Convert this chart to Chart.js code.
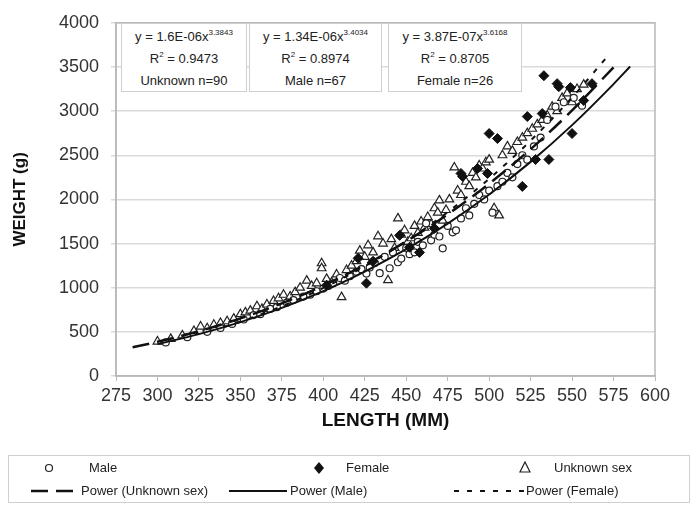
<!DOCTYPE html>
<html>
<head>
<meta charset="utf-8">
<script src="https://cdn.jsdelivr.net/npm/chart.js@4/dist/chart.umd.min.js"></script>
<style>
  body { margin: 0; background: #fff; font-family: 'Liberation Sans', Arial, sans-serif; }
  #wrap { position: relative; width: 698px; height: 506px; }
  .eq { position: absolute; top: 23px; height: 69px; background: #fff; border: 1px solid #cfcfcf;
        font-size: 13px; color: #222; text-align: center; line-height: 22px; padding-top: 2px; box-sizing: border-box; }
  .eq sup { font-size: 8px; vertical-align: 6px; line-height: 0; }
  #legend { position: absolute; left: 8px; top: 455px; width: 682px; height: 48px; border: 1px solid #cfcfcf;
            box-sizing: border-box; font-size: 13px; color: #222; }
  .li { position: absolute; white-space: nowrap; }
  .mk { position: absolute; }
</style>
</head>
<body>
<div id="wrap">
  <canvas id="lwChart"></canvas>
  <div class="eq" style="left:121px;width:126px;">y = 1.6E-06x<sup>3.3843</sup><br>R<sup>2</sup> = 0.9473<br>Unknown n=90</div>
  <div class="eq" style="left:249px;width:133px;">y = 1.34E-06x<sup>3.4034</sup><br>R<sup>2</sup> = 0.8974<br>Male n=67</div>
  <div class="eq" style="left:388px;width:134px;">y = 3.87E-07x<sup>3.6168</sup><br>R<sup>2</sup> = 0.8705<br>Female n=26</div>
  <div id="legend">
    <svg class="mk" style="left:34px;top:6px" width="12" height="12"><circle cx="6" cy="6" r="3.5" fill="#fff" stroke="#222" stroke-width="1.2"/></svg>
    <span class="li" style="left:80px;top:4px">Male</span>
    <svg class="mk" style="left:304px;top:5px" width="12" height="14"><polygon points="6,1 11,7 6,13 1,7" fill="#111"/></svg>
    <span class="li" style="left:337px;top:4px">Female</span>
    <svg class="mk" style="left:510px;top:5px" width="12" height="12"><polygon points="6,1 11,11 1,11" fill="#fff" stroke="#222" stroke-width="1.2"/></svg>
    <span class="li" style="left:545px;top:4px">Unknown sex</span>
    <svg class="mk" style="left:20px;top:32px" width="50" height="6"><line x1="2" y1="3" x2="48" y2="3" stroke="#111" stroke-width="2.5" stroke-dasharray="17,8"/></svg>
    <span class="li" style="left:72px;top:27px">Power (Unknown sex)</span>
    <svg class="mk" style="left:220px;top:32px" width="60" height="6"><line x1="0" y1="3" x2="58" y2="3" stroke="#111" stroke-width="2"/></svg>
    <span class="li" style="left:281px;top:27px">Power (Male)</span>
    <svg class="mk" style="left:443px;top:32px" width="72" height="6"><line x1="2" y1="3" x2="72" y2="3" stroke="#111" stroke-width="2" stroke-dasharray="5,8"/></svg>
    <span class="li" style="left:517px;top:27px">Power (Female)</span>
  </div>
</div>
<script>
// ticks
const lengthTicks = [275, 300, 325, 350, 375, 400, 425, 450, 475, 500, 525, 550, 575, 600];
const weightTicks = [0, 500, 1000, 1500, 2000, 2500, 3000, 3500, 4000];

// Male (open circles)
const maleLen = [305, 318, 330, 338, 345, 352, 358, 362, 368, 372, 378, 382, 388, 392, 396, 400, 403, 406, 410, 413,
  416, 420, 423, 426, 428, 431, 434, 437, 440, 442, 445, 447, 450, 452, 455, 457, 460, 462, 465, 467,
  470, 472, 475, 478, 480, 483, 486, 488, 491, 494, 497, 500, 502, 505, 508, 511, 514, 517, 520, 523,
  527, 531, 535, 540, 545, 551, 556];
const maleWt = [380, 440, 500, 545, 590, 640, 690, 700, 760, 780, 830, 860, 900, 920, 960, 990, 1020, 1050, 1110, 1080,
  1130, 1180, 1210, 1160, 1230, 1280, 1164, 1350, 1220, 1400, 1288, 1330, 1450, 1380, 1401, 1520, 1480, 1729, 1537, 1600,
  1580, 1446, 1700, 1627, 1650, 1785, 1900, 1819, 1950, 2050, 2000, 2100, 1850, 2150, 2200, 2300, 2250, 2400, 2500, 2450,
  2600, 2700, 2900, 3050, 3100, 3150, 3062];

// Female (filled diamonds)
const femLen = [402, 421, 426, 430, 446, 452, 458, 467, 483, 484, 493, 499, 500, 505, 520, 523, 528, 532, 533, 536,
  541, 542, 549, 550, 557, 562];
const femWt = [1028, 1333, 1051, 1300, 1593, 1458, 1400, 1672, 2294, 2260, 2350, 2294, 2746, 2689, 2147, 2938, 2452, 2972, 3401, 2452,
  3311, 3277, 3266, 2746, 3120, 3311];

// Unknown sex (open triangles)
const unkLen = [300, 308, 315, 322, 326, 330, 334, 338, 342, 346,
  350, 353, 356, 360, 363, 366, 370, 373, 376, 380,
  383, 386, 390, 393, 396, 399, 399, 402, 405, 408,
  411, 414, 417, 420, 422, 425, 427, 430, 433, 436,
  439, 441, 443, 445, 447, 449, 451, 453, 455, 457,
  459, 461, 463, 465, 467, 469, 470, 472, 474, 476,
  479, 481, 483, 486, 488, 490, 492, 494, 496, 498,
  500, 503, 506, 508, 511, 514, 517, 520, 523, 526,
  529, 532, 535, 538, 541, 544, 547, 550, 553, 557];
const unkWt = [390, 420, 460, 510, 560, 540, 580, 600, 620, 650,
  700, 720, 740, 790, 760, 810, 850, 880, 920, 900,
  950, 1000, 1080, 1020, 1050, 1277, 1220, 1100, 1060, 1150,
  893, 1200, 1250, 1300, 1420, 1350, 1480, 1400, 1582, 1500,
  1085, 1550, 1450, 1785, 1600, 1650, 1520, 1560, 1700, 1620,
  1750, 1680, 1800, 1720, 1900, 1850, 1989, 1760, 1880, 2000,
  2362, 2100, 2050, 2200, 2150, 2300, 2250, 2384, 2350, 2420,
  2450, 1900, 1819, 2500, 2600, 2550, 2650, 2700, 2750, 2800,
  2850, 2900, 2950, 3050, 3000, 3150, 3200, 3100, 3250, 3300];

// Power trend lines
const unkFitX = [285, 300, 325, 350, 375, 400, 425, 450, 475, 500, 525, 550, 575];
const unkFitY = [325, 387, 507, 652, 823, 1024, 1257, 1525, 1831, 2178, 2569, 3007, 3496];
const maleFitX = [300, 325, 350, 375, 400, 425, 450, 475, 500, 525, 550, 575, 585];
const maleFitY = [361, 474, 610, 772, 962, 1183, 1436, 1726, 2055, 2425, 2841, 3306, 3505];
const femFitX = [340, 350, 375, 400, 425, 450, 475, 500, 525, 550, 570];
const femFitY = [554, 615, 790, 997, 1242, 1527, 1856, 2234, 2666, 3155, 3590];

const pts = (xs, ys) => xs.map((x, i) => ({ x: x, y: ys[i] }));

const frame = {
    id: 'frame',
    beforeDatasetsDraw(chart) {
        const a = chart.chartArea, c = chart.ctx;
        c.save();
        c.strokeStyle = '#b8b8b8';
        c.lineWidth = 1.5;
        c.strokeRect(a.left, a.top, a.right - a.left, a.bottom - a.top);
        c.restore();
    }
};

const ctx = document.getElementById('lwChart');
new Chart(ctx, {
    type: 'scatter',
    data: {
        datasets: [{
            label: 'Power (Unknown sex)',
            data: pts(unkFitX, unkFitY),
            showLine: true,
            borderColor: '#111',
            borderWidth: 2.5,
            borderDash: [17, 8],
            pointRadius: 0,
            cubicInterpolationMode: 'monotone',
            order: 0
        }, {
            label: 'Power (Male)',
            data: pts(maleFitX, maleFitY),
            showLine: true,
            borderColor: '#111',
            borderWidth: 2,
            pointRadius: 0,
            cubicInterpolationMode: 'monotone',
            order: 0
        }, {
            label: 'Power (Female)',
            data: pts(femFitX, femFitY),
            showLine: true,
            borderColor: '#111',
            borderWidth: 2,
            borderDash: [5, 8],
            pointRadius: 0,
            cubicInterpolationMode: 'monotone',
            order: 0
        }, {
            label: 'Male',
            data: pts(maleLen, maleWt),
            pointStyle: 'circle',
            pointRadius: 3.5,
            backgroundColor: '#fff',
            borderColor: '#222',
            borderWidth: 1.2,
            order: 2
        }, {
            label: 'Female',
            data: pts(femLen, femWt),
            pointStyle: 'rectRot',
            pointRadius: 5,
            backgroundColor: '#111',
            borderColor: '#111',
            borderWidth: 1,
            order: 1
        }, {
            label: 'Unknown sex',
            data: pts(unkLen, unkWt),
            pointStyle: 'triangle',
            pointRadius: 5,
            backgroundColor: '#fff',
            borderColor: '#222',
            borderWidth: 1.2,
            order: 2
        }]
    },
    options: {
        responsive: true,
        maintainAspectRatio: false,
        animation: false,
        layout: {
            padding: { left: 0, top: 22, right: 43, bottom: 70 }
        },
        plugins: {
            legend: { display: false },
            tooltip: { enabled: false }
        },
        scales: {
            x: {
                type: 'linear',
                min: 275,
                max: 600,
                afterBuildTicks: (s) => { s.ticks = lengthTicks.map(v => ({ value: v })); },
                afterFit: (s) => { s.height = 60; },
                ticks: {
                    color: '#333',
                    padding: 4,
                    callback: (v) => String(v),
                    font: { size: 18, family: "'Liberation Sans', Arial, sans-serif" }
                },
                title: {
                    display: true,
                    text: 'LENGTH (MM)',
                    color: '#111',
                    padding: { top: 0 },
                    font: { size: 19, weight: 'bold', family: "'Liberation Sans', Arial, sans-serif" }
                },
                grid: {
                    drawOnChartArea: false,
                    tickLength: 5,
                    color: '#b8b8b8'
                },
                border: { color: '#b8b8b8', width: 1.5 }
            },
            y: {
                min: 0,
                max: 4000,
                afterBuildTicks: (s) => { s.ticks = weightTicks.map(v => ({ value: v })); },
                afterFit: (s) => { s.width = 116; },
                ticks: {
                    color: '#333',
                    padding: 12,
                    callback: (v) => String(v),
                    font: { size: 18, family: "'Liberation Sans', Arial, sans-serif" }
                },
                title: {
                    display: true,
                    text: 'WEIGHT (g)',
                    color: '#111',
                    padding: { top: 10, bottom: 0 },
                    font: { size: 17, weight: 'bold', family: "'Liberation Sans', Arial, sans-serif" }
                },
                grid: {
                    color: '#dadada',
                    lineWidth: 1.5,
                    tickLength: 5
                },
                border: { color: '#b8b8b8', width: 1.5 }
            }
        }
    },
    plugins: [frame]
});
</script>
</body>
</html>
